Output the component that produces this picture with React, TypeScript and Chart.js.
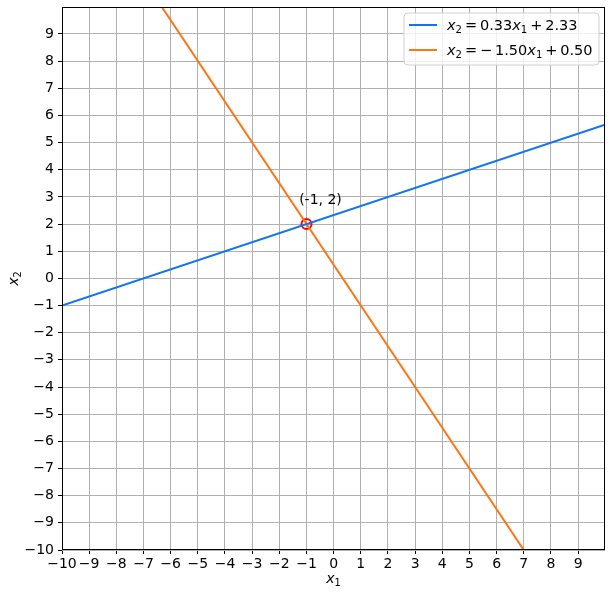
import React, { useEffect, useRef } from "react";
import { Chart, registerables } from "chart.js";

Chart.register(...registerables);

// Line endpoints (x1, x2)
const blueX = [-10, 9.99];
const blueY = [-1.0, 5.66];
const orangeX = [-6.33, 7.0];
const orangeY = [10.0, -10.0];
// Legend coefficients
const slopes = ["0.33", "\u2212\u20091.50"];
const intercepts = ["2.33", "0.50"];
const lineColors = ["#1174ef", "#ff7412"];
// Intersection point
const pointX = [-1];
const pointY = [2];
const pointLabel = "(-1, 2)";
// Ticks
const tickValues = [-10, -9, -8, -7, -6, -5, -4, -3, -2, -1, 0, 1, 2, 3, 4, 5, 6, 7, 8, 9];

const FONT = "DejaVu Sans";

type Seg = { t: string; it?: boolean; sub?: boolean };

function mathWidth(ctx: CanvasRenderingContext2D, segs: Seg[], size: number) {
  let w = 0;
  for (const s of segs) {
    const fs = s.sub ? size * 0.7 : size;
    ctx.font = `${s.it ? "italic " : ""}${fs}px "${FONT}"`;
    w += ctx.measureText(s.t).width;
  }
  return w;
}

function drawMath(ctx: CanvasRenderingContext2D, segs: Seg[], x: number, y: number, size: number) {
  let cx = x;
  ctx.textBaseline = "alphabetic";
  ctx.textAlign = "left";
  for (const s of segs) {
    const fs = s.sub ? size * 0.7 : size;
    ctx.font = `${s.it ? "italic " : ""}${fs}px "${FONT}"`;
    ctx.fillText(s.t, cx, s.sub ? y + size * 0.22 : y);
    cx += ctx.measureText(s.t).width;
  }
}

const minus = (v: number) => String(v).replace("-", "\u2212");

export default function App() {
  const ref = useRef<HTMLCanvasElement>(null);
  useEffect(() => {
    const canvas = ref.current!;
    const extras = {
      id: "extras",
      afterDraw(chart: any) {
        const ctx: CanvasRenderingContext2D = chart.ctx;
        const a = chart.chartArea;
        const xs = chart.scales.x;
        const ys = chart.scales.y;
        ctx.save();
        // frame
        ctx.strokeStyle = "#000";
        ctx.lineWidth = 1;
        ctx.strokeRect(Math.round(a.left) + 0.5, Math.round(a.top) + 0.5, Math.round(a.right - a.left) - 1, Math.round(a.bottom - a.top) - 1);
        // annotation
        ctx.fillStyle = "#000";
        ctx.font = `14px "${FONT}"`;
        ctx.textAlign = "center";
        ctx.textBaseline = "alphabetic";
        ctx.fillText(pointLabel, xs.getPixelForValue(pointX[0]) + 14, ys.getPixelForValue(pointY[0]) - 20);
        // axis titles
        const xt: Seg[] = [{ t: "x", it: true }, { t: "1", sub: true }];
        const wx = mathWidth(ctx, xt, 14);
        ctx.fillStyle = "#000";
        drawMath(ctx, xt, (a.left + a.right) / 2 - wx / 2, 583, 14);
        ctx.save();
        ctx.translate(18, (a.top + a.bottom) / 2);
        ctx.rotate(-Math.PI / 2);
        const yt: Seg[] = [{ t: "x", it: true }, { t: "2", sub: true }];
        const wy = mathWidth(ctx, yt, 14);
        drawMath(ctx, yt, -wy / 2, 0, 14);
        ctx.restore();
        // legend
        const lx = 404, ly = 13, lw = 195, lh = 52, r = 4;
        ctx.beginPath();
        ctx.moveTo(lx + r, ly);
        ctx.arcTo(lx + lw, ly, lx + lw, ly + lh, r);
        ctx.arcTo(lx + lw, ly + lh, lx, ly + lh, r);
        ctx.arcTo(lx, ly + lh, lx, ly, r);
        ctx.arcTo(lx, ly, lx + lw, ly, r);
        ctx.closePath();
        ctx.fillStyle = "rgba(255,255,255,0.8)";
        ctx.fill();
        ctx.strokeStyle = "#d0d0d0";
        ctx.lineWidth = 1;
        ctx.stroke();
        for (let i = 0; i < 2; i++) {
          const yy = ly + 12 + i * 25;
          ctx.strokeStyle = lineColors[i];
          ctx.lineWidth = 2;
          ctx.beginPath();
          ctx.moveTo(lx + 5, yy);
          ctx.lineTo(lx + 33, yy);
          ctx.stroke();
          ctx.fillStyle = "#000";
          const segs: Seg[] = [
            { t: "x", it: true }, { t: "2", sub: true },
            { t: "\u2009=\u2009" + slopes[i] },
            { t: "x", it: true }, { t: "1", sub: true },
            { t: "\u2009+\u2009" + intercepts[i] },
          ];
          drawMath(ctx, segs, lx + 43, yy + 5, 14.5);
        }
        ctx.restore();
      },
    };
    const tickOpts = {
      color: "#000",
      font: { family: FONT, size: 14 },
      autoSkip: false,
      maxRotation: 0,
      callback: (v: any) => minus(v),
    };
    const chart = new Chart(canvas, {
      type: "scatter",
      data: {
        datasets: [
          {
            type: "line",
            data: blueX.map((x, i) => ({ x, y: blueY[i] })),
            borderColor: lineColors[0],
            borderWidth: 2,
            pointRadius: 0,
            showLine: true,
          } as any,
          {
            type: "line",
            data: orangeX.map((x, i) => ({ x, y: orangeY[i] })),
            borderColor: lineColors[1],
            borderWidth: 2,
            pointRadius: 0,
            showLine: true,
          } as any,
          {
            data: pointX.map((x, i) => ({ x, y: pointY[i] })),
            pointRadius: 5,
            pointBorderWidth: 2,
            pointBorderColor: "#ff0000",
            pointBackgroundColor: "rgba(0,0,0,0)",
            pointHoverRadius: 5,
          },
        ],
      },
      options: {
        animation: false,
        responsive: false,
        layout: { padding: { top: 7, right: 3, left: 0, bottom: 0 } },
        plugins: { legend: { display: false }, tooltip: { enabled: false } },
        scales: {
          x: {
            type: "linear",
            min: -10,
            max: 9.99,
            afterBuildTicks: (s: any) => { s.ticks = tickValues.map((v) => ({ value: v })); },
            afterFit: (s: any) => { s.height = 47; s.paddingLeft = 0; s.paddingRight = 0; },
            ticks: { ...tickOpts, padding: 2 },
            grid: { color: "#b0b0b0", lineWidth: 1, tickLength: 4, tickColor: "#000", drawTicks: true },
            border: { display: false },
          },
          y: {
            type: "linear",
            min: -10,
            max: 9.99,
            afterBuildTicks: (s: any) => { s.ticks = tickValues.map((v) => ({ value: v })); },
            afterFit: (s: any) => { s.width = 62; s.paddingTop = 0; s.paddingBottom = 0; },
            ticks: { ...tickOpts, padding: 4 },
            grid: { color: "#b0b0b0", lineWidth: 1, tickLength: 4, tickColor: "#000", drawTicks: true },
            border: { display: false },
          },
        },
      },
      plugins: [extras],
    } as any);
    return () => chart.destroy();
  }, []);
  return (
    <div style={{ position: "fixed", left: 0, top: 0, width: 612, height: 597, background: "#fff" }}>
      <canvas ref={ref} width={612} height={597} style={{ width: 612, height: 597 }} />
    </div>
  );
}
